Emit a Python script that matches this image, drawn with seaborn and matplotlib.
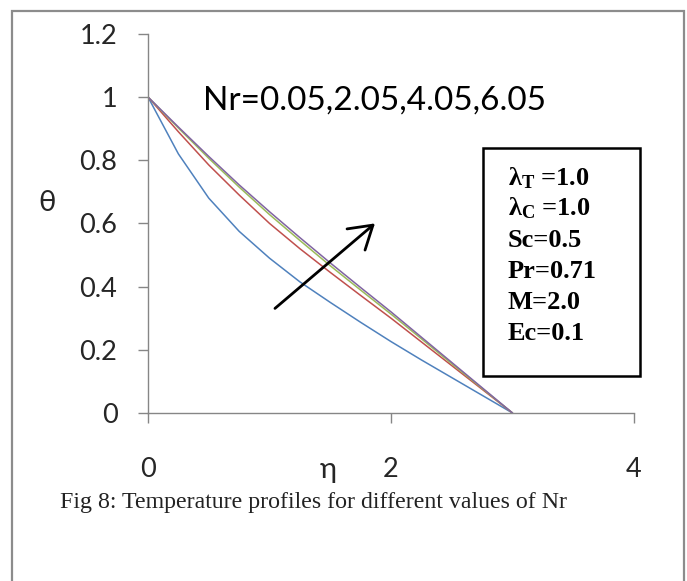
import numpy as np
import pandas as pd
import matplotlib
matplotlib.use("Agg")
import matplotlib.pyplot as plt
from matplotlib.patches import Rectangle
import seaborn as sns

# ---- data ----
eta = [0, 0.25, 0.5, 0.75, 1.0, 1.25, 1.5, 1.75, 2.0, 2.25, 2.5, 2.75, 3.0]
theta_nr005 = [1.0, 0.82, 0.68, 0.575, 0.49, 0.415, 0.35, 0.287, 0.226, 0.168, 0.112, 0.056, 0.0]
theta_nr205 = [1.0, 0.89, 0.785, 0.69, 0.60, 0.52, 0.445, 0.372, 0.30, 0.225, 0.15, 0.075, 0.0]
theta_nr405 = [1.0, 0.902, 0.806, 0.715, 0.628, 0.546, 0.466, 0.389, 0.313, 0.235, 0.156, 0.078, 0.0]
theta_nr605 = [1.0, 0.905, 0.812, 0.722, 0.637, 0.555, 0.475, 0.397, 0.32, 0.24, 0.16, 0.08, 0.0]
series_names = ["Nr=0.05", "Nr=2.05", "Nr=4.05", "Nr=6.05"]
series_colors = ["#4F81BD", "#C0504D", "#9BBB59", "#8064A2"]
x_ticks = [0, 2, 4]
y_ticks = [0, 0.2, 0.4, 0.6, 0.8, 1.0, 1.2]
y_tick_labels = ["0", "0.2", "0.4", "0.6", "0.8", "1", "1.2"]
param_lines = [r"$\mathbf{\lambda}_{\mathbf{T}}$ =1.0", r"$\mathbf{\lambda}_{\mathbf{C}}$ =1.0",
               "Sc=0.5", "Pr=0.71", "M=2.0", "Ec=0.1"]

rows = []
for name, vals in zip(series_names, [theta_nr005, theta_nr205, theta_nr405, theta_nr605]):
    for e, t in zip(eta, vals):
        rows.append({"eta": e, "theta": t, "series": name})
df = pd.DataFrame(rows)

sns.set_style("white")
plt.rcParams["font.family"] = ["Lato", "DejaVu Sans"]
plt.rcParams["mathtext.fontset"] = "custom"
plt.rcParams["mathtext.rm"] = "Liberation Serif:bold"
plt.rcParams["mathtext.bf"] = "Liberation Serif:bold"
plt.rcParams["mathtext.it"] = "Liberation Serif:bold"

W, H = 687, 581
fig = plt.figure(figsize=(W / 100, H / 100), dpi=100)
fig.patch.set_facecolor("white")

ax_l, ax_r, ax_t, ax_b = 148, 634, 33.8, 413
ax = fig.add_axes([ax_l / W, (H - ax_b) / H, (ax_r - ax_l) / W, (ax_b - ax_t) / H])

sns.lineplot(data=df, x="eta", y="theta", hue="series", palette=series_colors,
             hue_order=series_names, linewidth=1.1, legend=False, ax=ax)

ax.set_xlim(0, 4)
ax.set_ylim(0, 1.2)
ax.set_xticks(x_ticks)
ax.set_xticklabels([str(v) for v in x_ticks])
ax.set_yticks(y_ticks)
ax.set_yticklabels(y_tick_labels)

gray = "#868686"
for s in ["top", "right"]:
    ax.spines[s].set_visible(False)
for s in ["left", "bottom"]:
    ax.spines[s].set_color(gray)
    ax.spines[s].set_linewidth(1.0)

ax.tick_params(axis="y", direction="out", length=7, width=1.0, color=gray,
               pad=15, labelsize=19.5, left=True)
ax.tick_params(axis="x", direction="out", length=7, width=1.0, color=gray,
               pad=25, labelsize=19.5, bottom=True)

ax.set_xlabel("η", fontsize=21)
ax.xaxis.set_label_coords((328 - ax_l) / (ax_r - ax_l), (ax_b - 478) / (ax_b - ax_t))
ax.xaxis.label.set_verticalalignment("baseline")
ax.set_ylabel("θ", fontsize=21, rotation=0)
ax.yaxis.set_label_coords((47 - ax_l) / (ax_r - ax_l), (ax_b - 203) / (ax_b - ax_t))
ax.yaxis.label.set_verticalalignment("center")
ax.yaxis.label.set_horizontalalignment("center")

# annotation text
ax.text(0.455, 0.959, "Nr=0.05,2.05,4.05,6.05", fontsize=24, ha="left",
        va="baseline", color="black")

# arrow
ax.annotate("", xy=(1.868, 0.600), xytext=(1.045, 0.331),
            arrowprops=dict(arrowstyle="->,head_length=0.8,head_width=0.5",
                            color="black", lw=2.0, mutation_scale=20,
                            shrinkA=0, shrinkB=0))

# parameter box
bx0, bx1, by0, by1 = 482.7, 640, 148, 376
fig.patches.append(Rectangle((bx0 / W, (H - by1) / H), (bx1 - bx0) / W, (by1 - by0) / H,
                             transform=fig.transFigure, fill=False, edgecolor="black",
                             linewidth=1.8, zorder=5))
baselines = [185, 215, 247, 278, 309, 340]
for txt, yb in zip(param_lines, baselines):
    fig.text(508 / W, (H - yb) / H, txt, fontsize=19, fontweight="bold",
             family="Liberation Serif", ha="left", va="baseline", color="black")

# caption
fig.text(60 / W, (H - 508) / H, "Fig 8: Temperature profiles for different values of Nr",
         fontsize=17.2, family="Liberation Serif", ha="left", va="baseline", color="#222222")

# outer border
fig.patches.append(Rectangle((12 / W, -0.02), (684 - 12) / W, (H - 11) / H + 0.02,
                             transform=fig.transFigure, fill=False, edgecolor="#8c8c8c",
                             linewidth=1.6, zorder=5))

fig.savefig("out.png", dpi=100, facecolor="white")
